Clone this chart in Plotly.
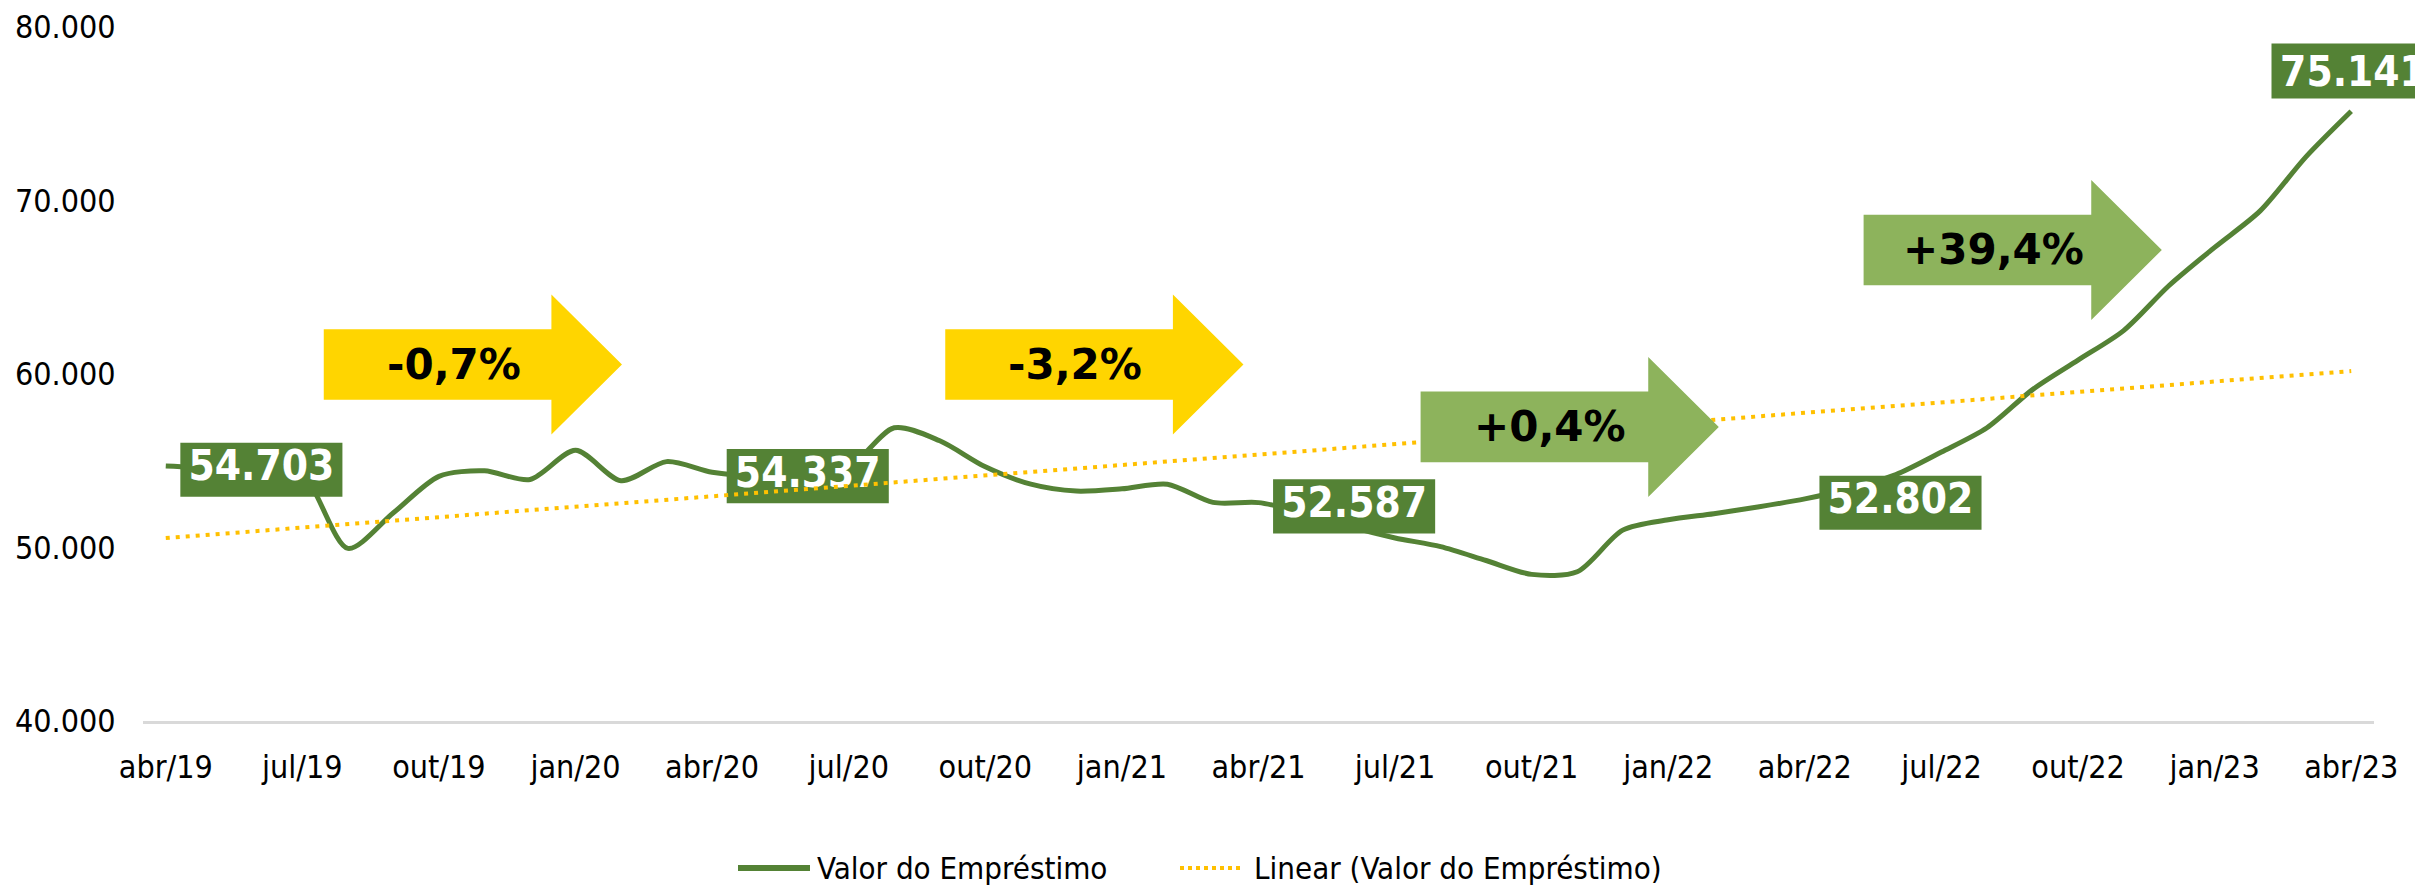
import numpy as np
import plotly.graph_objects as go

# ---------------- data ----------------
categories = [
    "abr/19", "mai/19", "jun/19", "jul/19", "ago/19", "set/19", "out/19", "nov/19", "dez/19",
    "jan/20", "fev/20", "mar/20", "abr/20", "mai/20", "jun/20", "jul/20", "ago/20", "set/20",
    "out/20", "nov/20", "dez/20", "jan/21", "fev/21", "mar/21", "abr/21", "mai/21", "jun/21",
    "jul/21", "ago/21", "set/21", "out/21", "nov/21", "dez/21", "jan/22", "fev/22", "mar/22",
    "abr/22", "mai/22", "jun/22", "jul/22", "ago/22", "set/22", "out/22", "nov/22", "dez/22",
    "jan/23", "fev/23", "mar/23", "abr/23",
]
valor = [
    54703, 54600, 54600, 54200, 49950, 52000, 54100, 54420, 53920,
    55600, 53850, 54950, 54337, 54100, 54100, 54600, 56900, 56150,
    54650, 53650, 53250, 53380, 53650, 52600, 52587, 52000, 51200,
    50550, 50050, 49250, 48450, 48600, 51000, 51600, 51950, 52350,
    52802, 53400, 54200, 55500, 56900, 59100, 60800, 62500, 65100,
    67300, 69400, 72500, 75141,
]
label_idx = [0, 12, 24, 36, 48]
arrow_labels = ["-0,7%", "-3,2%", "+0,4%", "+39,4%"]
arrow_start = [3.47, 17.12, 27.56, 37.29]
arrow_center = [60550, 60550, 56950, 67150]
arrow_colors = ["#FFD500", "#FFD500", "#8DB35C", "#8DB35C"]
series_names = ["Valor do Empréstimo", "Linear (Valor do Empréstimo)"]

# ---------------- styles ----------------
GREEN = "#548235"
GOLD = "#FFC000"
FONT = "DejaVu Sans Condensed, DejaVu Sans, sans-serif"
FONT_B = "DejaVu Sans, sans-serif"

idx = np.arange(len(valor))
slope, intercept = np.polyfit(idx, np.array(valor, dtype=float), 1)
trend = intercept + slope * idx

def fmt(v):
    return f"{v:,}".replace(",", ".")

fig = go.Figure()
fig.add_trace(go.Scatter(
    x=idx, y=valor, mode="lines", name=series_names[0],
    line=dict(color=GREEN, width=5, shape="spline", smoothing=0.8),
    hoverinfo="skip", showlegend=False,
))

# label boxes (inner ones as traces so the trend line passes over them)
box_w = 3.56
box_h = 3120
box_dx = 0.32
box_dy = -220
for i in label_idx[:-1]:
    x0 = i + box_dx
    x1 = x0 + box_w
    yc = valor[i] + box_dy
    fig.add_trace(go.Scatter(
        x=[x0, x1, x1, x0, x0], y=[yc - box_h / 2, yc - box_h / 2, yc + box_h / 2, yc + box_h / 2, yc - box_h / 2],
        fill="toself", fillcolor=GREEN, line=dict(width=0), mode="lines",
        showlegend=False, hoverinfo="skip",
    ))
    fig.add_trace(go.Scatter(
        x=[(x0 + x1) / 2], y=[yc], mode="text", text=[f"<b>{fmt(valor[i])}</b>"],
        textposition="middle center",
        textfont=dict(family=FONT, size=42, color="white"),
        showlegend=False, hoverinfo="skip",
    ))

fig.add_trace(go.Scatter(
    x=idx, y=trend, mode="lines", name=series_names[1],
    line=dict(color=GOLD, width=4, dash="4px,6px"),
    hoverinfo="skip", showlegend=False,
))

# last label as annotation (extends beyond the plot edge)
last = label_idx[-1]
annotations = [dict(
    x=last, y=valor[last], xref="x", yref="y", text=f"<b>{fmt(valor[last])}</b>",
    showarrow=False, xanchor="center", yanchor="bottom", yshift=12, xshift=2,
    font=dict(family=FONT, size=42, color="white"),
    bgcolor=GREEN, width=158, height=50, borderpad=2,
)]

# arrows
body_len = 5.0
head_len = 1.55
body_half = 2035
head_half = 4035
shapes = []
for xs, yc, txt, col in zip(arrow_start, arrow_center, arrow_labels, arrow_colors):
    xb = xs + body_len
    xt = xb + head_len
    path = (f"M {xs},{yc - body_half} L {xb},{yc - body_half} L {xb},{yc - head_half} "
            f"L {xt},{yc} L {xb},{yc + head_half} L {xb},{yc + body_half} L {xs},{yc + body_half} Z")
    shapes.append(dict(type="path", path=path, xref="x", yref="y",
                       fillcolor=col, line=dict(width=0), layer="above"))
    annotations.append(dict(
        x=xs + 2.85, y=yc, xref="x", yref="y", text=f"<b>{txt}</b>", showarrow=False,
        xanchor="center", yanchor="middle",
        font=dict(family=FONT_B, size=42, color="black"),
    ))

# legend (drawn as paper-referenced symbols + texts)
L, R, T, B = 143, 41, 27, 166
W, H = 2415, 887
pw, ph = W - L - R, H - T - B
def px(x):
    return (x - L) / pw
def py(y):
    return (H - B - y) / ph
leg_y = 868
leg_items = [
    (738, 810, 815, dict(color=GREEN, width=6)),
    (1180, 1243, 1252, dict(color=GOLD, width=4, dash="4px,4px")),
]
for (s0, s1, tx, ln), name in zip(leg_items, series_names):
    shapes.append(dict(type="line", xref="paper", yref="paper",
                       x0=px(s0), x1=px(s1), y0=py(leg_y), y1=py(leg_y), line=ln))
    annotations.append(dict(x=px(tx), y=py(leg_y), xref="paper", yref="paper", text=name,
                            showarrow=False, xanchor="left", yanchor="middle",
                            font=dict(family=FONT, size=31, color="black")))

fig.update_layout(
    width=W, height=H,
    margin=dict(l=L, r=R, t=T, b=B, autoexpand=False),
    paper_bgcolor="white", plot_bgcolor="white",
    separators=",.",
    showlegend=False,
    xaxis=dict(range=[-0.5, 48.5], tickvals=idx[::3].tolist(), ticktext=categories[::3],
               showgrid=False, zeroline=False, showline=True, linecolor="#D9D9D9", linewidth=3,
               ticks="outside", ticklen=16, tickcolor="rgba(0,0,0,0)", automargin=False,
               tickfont=dict(family=FONT, size=32, color="black")),
    yaxis=dict(range=[40000, 80000], tickvals=[40000, 50000, 60000, 70000, 80000],
               tickformat=",.0f", showgrid=False, zeroline=False, showline=False,
               ticks="outside", ticklen=20, tickcolor="rgba(0,0,0,0)", automargin=False,
               tickfont=dict(family=FONT, size=32, color="black")),
    shapes=shapes,
    annotations=annotations,
)

fig.write_html(
    "out.html",
    config={"displayModeBar": False, "staticPlot": True},
    post_script="document.body.style.margin='0';document.body.style.overflow='hidden';",
)
